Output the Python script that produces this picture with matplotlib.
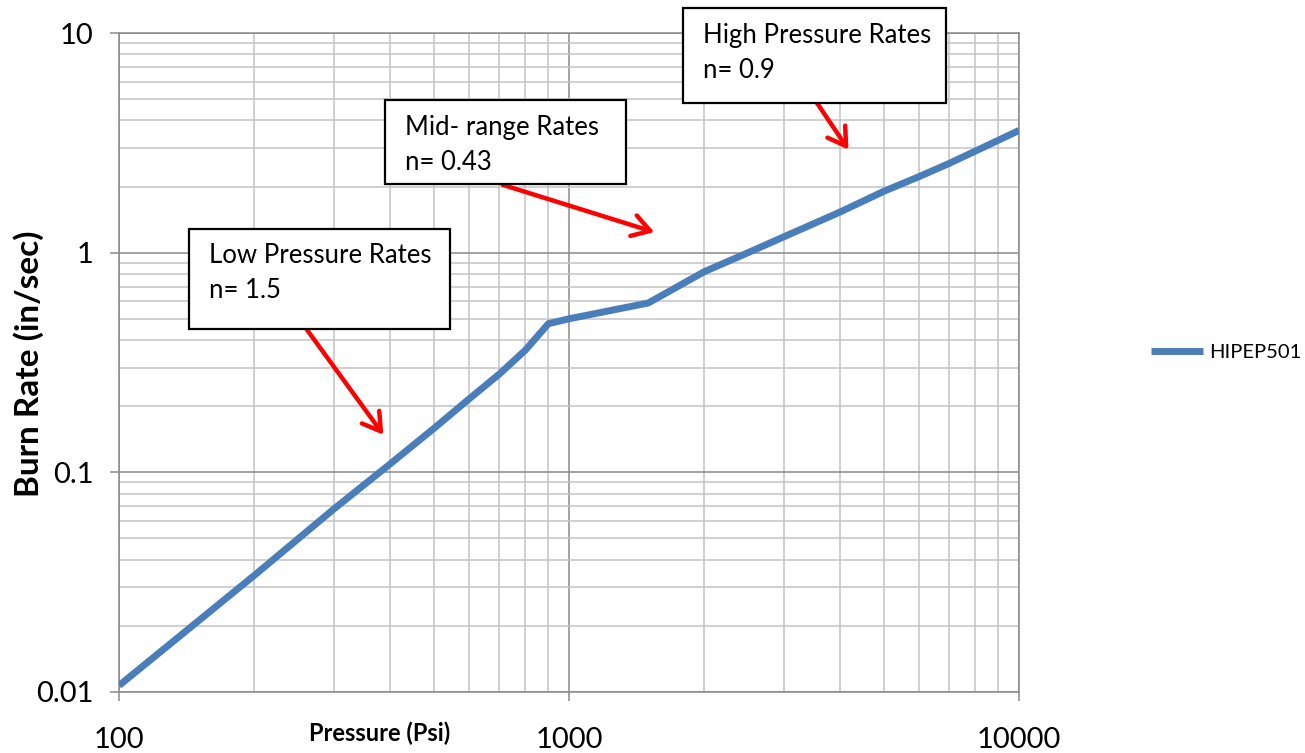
import matplotlib
matplotlib.use('Agg')
import matplotlib.pyplot as plt
from matplotlib.patches import Rectangle, FancyArrowPatch
from matplotlib.ticker import FixedLocator, FuncFormatter, LogLocator, NullFormatter

# pressure (psi) and burn rate (in/sec)
pressure = [100, 200, 300, 400, 500, 600, 700, 800, 900, 1000, 1500,
            2000, 2500, 3000, 4000, 5000, 6000, 7000, 8000, 9000, 10000]
burn_rate = [0.0107, 0.034, 0.068, 0.109, 0.158, 0.216, 0.28, 0.36, 0.475, 0.50, 0.59,
             0.82, 1.0, 1.18, 1.53, 1.9, 2.22, 2.55, 2.9, 3.25, 3.6]
series_name = 'HIPEP501'

x_ticks = [100, 1000, 10000]
y_ticks = [0.01, 0.1, 1, 10]

notes = [
    ('Low Pressure Rates', 'n= 1.5'),
    ('Mid- range Rates', 'n= 0.43'),
    ('High Pressure Rates', 'n= 0.9'),
]

W, H = 1305, 753
plt.rcParams['font.family'] = ['Lato', 'DejaVu Sans']


def fx(x):
    return x / W


def fy(y):
    return 1 - y / H


def main():
    fig = plt.figure(figsize=(W / 100, H / 100), dpi=100)
    ax = fig.add_axes([fx(119), fy(692), (1019 - 119) / W, (692 - 33) / H])

    ax.plot(pressure, burn_rate, color='#4a7ebb', lw=5, solid_capstyle='butt',
            label=series_name, zorder=3)
    ax.set_xscale('log')
    ax.set_yscale('log')
    ax.set_xlim(100, 10000)
    ax.set_ylim(0.01, 10)

    ax.xaxis.set_major_locator(FixedLocator(x_ticks))
    ax.yaxis.set_major_locator(FixedLocator(y_ticks))
    ax.xaxis.set_major_formatter(FuncFormatter(lambda v, p: '%g' % v))
    ax.yaxis.set_major_formatter(FuncFormatter(lambda v, p: '%g' % v))
    for axis in (ax.xaxis, ax.yaxis):
        axis.set_minor_locator(LogLocator(base=10, subs=range(2, 10)))
        axis.set_minor_formatter(NullFormatter())

    ax.grid(which='major', color='#8a8a8a', lw=1.1)
    ax.grid(which='minor', color='#c4c4c4', lw=1.1)
    ax.set_axisbelow(True)
    for s in ax.spines.values():
        s.set_color('#8a8a8a')
        s.set_linewidth(1.1)
    ax.tick_params(which='major', direction='out', length=6.5, width=1.1,
                   color='#8a8a8a', labelsize=21)
    ax.tick_params(axis='x', which='major', pad=19)
    ax.tick_params(axis='y', which='major', pad=12)
    ax.tick_params(which='minor', length=0)

    fig.text(fx(380), fy(733), 'Pressure (Psi)', fontsize=17, fontweight='bold',
             ha='center', va='center')
    fig.text(fx(29), fy(364), 'Burn Rate (in/sec)', fontsize=24, fontweight='bold',
             rotation=90, ha='center', va='center')

    fig.legend(loc='center left', bbox_to_anchor=(fx(1133), fy(352)), frameon=False,
               fontsize=14.5, handlelength=2.6, handletextpad=0.3)

    # text boxes: left, top, right, bottom in pixels
    boxes = [(189, 229, 450, 329), (385, 100, 626, 184), (683, 8, 946, 103)]
    arrows = [((305, 327), (385, 437)), ((500, 184), (657, 233)), ((815, 100), (850, 152))]
    for (l, t, r, b), (line1, line2) in zip(boxes, notes):
        fig.patches.append(Rectangle((fx(l), fy(b)), (r - l) / W, (b - t) / H,
                                     transform=fig.transFigure, facecolor='white',
                                     edgecolor='black', lw=1.6, zorder=5))
        fig.text(fx(l + 20), fy(t + 27), line1, fontsize=18.5, va='center', zorder=6)
        fig.text(fx(l + 20), fy(t + 62), line2, fontsize=18.5, va='center', zorder=6)
    for (x0, y0), (x1, y1) in arrows:
        fig.patches.append(FancyArrowPatch((fx(x0), fy(y0)), (fx(x1), fy(y1)),
                                           transform=fig.transFigure,
                                           arrowstyle='->,head_length=0.9,head_width=0.55',
                                           color='#ff0000', lw=3.2, mutation_scale=14,
                                           zorder=4))

    fig.savefig('out.png', dpi=100)


if __name__ == '__main__':
    main()
